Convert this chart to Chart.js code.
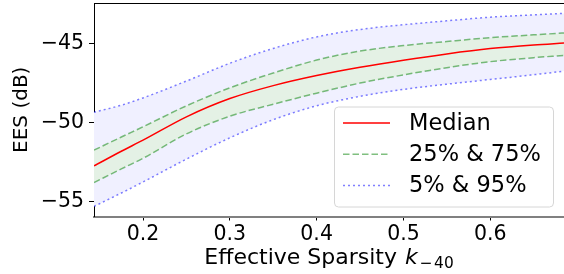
<!DOCTYPE html>
<html>
<head>
<meta charset="utf-8">
<script src="https://cdn.jsdelivr.net/npm/chart.js@4"></script>
<style>
  html, body { margin: 0; padding: 0; background: #fff; }
  #wrap { position: relative; width: 564px; height: 274px; }
</style>
</head>
<body>
<div id="wrap"><canvas id="chart" width="564" height="274"></canvas></div>
<script>
// effective sparsity k_-40 (x) and EES in dB (y)
const sparsity = [0.1435, 0.175, 0.2, 0.25, 0.3, 0.35, 0.4, 0.45, 0.5, 0.55, 0.6, 0.65, 0.685]
const median = [-52.73, -51.8, -51.1, -49.62, -48.46, -47.64, -47.0, -46.48, -46.03, -45.63, -45.29, -45.06, -44.94]
const q25 = [-53.79, -52.92, -52.25, -50.7, -49.58, -48.82, -48.12, -47.48, -46.96, -46.5, -46.12, -45.87, -45.72]
const q75 = [-51.73, -50.9, -50.25, -48.92, -47.78, -46.84, -46.02, -45.45, -45.1, -44.84, -44.6, -44.42, -44.3]
const p5 = [-55.3, -54.45, -53.75, -52.3, -50.95, -49.8, -48.92, -48.32, -47.88, -47.55, -47.25, -46.95, -46.72]
const p95 = [-49.33, -48.88, -48.42, -47.35, -46.22, -45.28, -44.55, -44.08, -43.78, -43.53, -43.3, -43.15, -43.06]

const xTicks = [0.2, 0.3, 0.4, 0.5, 0.6]
const yTicks = [-55, -50, -45]
const legendLabels = ['Median', '25% & 75%', '5% & 95%']

const FONT = 'DejaVu Sans'
const FS = 20.5
const LEG_FS = 22.5
const TITLE_FS = 22

function pts(ys) {
  return sparsity.map((x, i) => ({ x: x, y: ys[i] }))
}

const lineBase = {
  pointRadius: 0,
  borderWidth: 1.5,
  cubicInterpolationMode: 'monotone',
  fill: false,
}

// frame top line + custom legend + x title with subscript
const extras = {
  id: 'extras',
  afterDraw(chart) {
    const ctx = chart.ctx
    const a = chart.chartArea
    ctx.save()
    ctx.strokeStyle = '#000'
    ctx.lineWidth = 1
    ctx.beginPath()
    ctx.moveTo(a.left, a.top + 0.5)
    ctx.lineTo(a.right, a.top + 0.5)
    ctx.stroke()

    // legend
    const w = 219, h = 100
    const lx = a.right - 11 - w
    const ly = a.bottom - 10 - h
    ctx.beginPath()
    ctx.roundRect(lx + 0.5, ly + 0.5, w, h, 4)
    ctx.fillStyle = 'rgba(255,255,255,0.8)'
    ctx.fill()
    ctx.strokeStyle = '#d6d6d6'
    ctx.stroke()
    const styles = [
      { c: '#ff0000', d: [] },
      { c: 'rgba(0,128,0,0.5)', d: [6.5, 3] },
      { c: 'rgba(0,0,255,0.5)', d: [2, 3] },
    ]
    ctx.font = LEG_FS + 'px "' + FONT + '"'
    ctx.textBaseline = 'middle'
    ctx.fillStyle = '#000'
    legendLabels.forEach((t, i) => {
      const cy = ly + 16.5 + i * 31.3
      ctx.strokeStyle = styles[i].c
      ctx.lineWidth = 1.5
      ctx.setLineDash(styles[i].d)
      ctx.beginPath()
      ctx.moveTo(lx + 9, cy)
      ctx.lineTo(lx + 56, cy)
      ctx.stroke()
      ctx.setLineDash([])
      ctx.fillText(t, lx + 75, cy + 1)
    })

    // x axis title: Effective Sparsity k_{-40}
    const parts = [
      { t: 'Effective Sparsity ', f: TITLE_FS + 'px "' + FONT + '"', dy: 0, gap: 1 },
      { t: 'k', f: 'oblique ' + TITLE_FS + 'px "' + FONT + '"', dy: 0, gap: 2 },
      { t: '\u2212', f: (TITLE_FS * 0.7) + 'px "' + FONT + '"', dy: 4, gap: 1.5 },
      { t: '40', f: (TITLE_FS * 0.7) + 'px "' + FONT + '"', dy: 4, gap: 0 },
    ]
    let total = 0
    parts.forEach(p => {
      ctx.font = p.f
      p.w = ctx.measureText(p.t).width
      total += p.w + p.gap
    })
    let x = (a.left + a.right) / 2 - total / 2
    ctx.textBaseline = 'alphabetic'
    parts.forEach(p => {
      ctx.font = p.f
      ctx.fillText(p.t, x, 264 + p.dy)
      x += p.w + p.gap
    })
    ctx.restore()
  },
}

const ctx = document.getElementById('chart').getContext('2d')
const chart = new Chart(ctx, {
  type: 'line',
  data: {
    datasets: [
      { ...lineBase, label: 'Median', data: pts(median), borderColor: '#ff0000' },
      { ...lineBase, label: '25%', data: pts(q25), borderColor: 'rgba(0,128,0,0.5)', borderDash: [6.5, 3] },
      {
        ...lineBase,
        label: '75%',
        data: pts(q75),
        borderColor: 'rgba(0,128,0,0.5)',
        borderDash: [6.5, 3],
        fill: '-1',
        backgroundColor: 'rgb(228,241,229)',
      },
      { ...lineBase, label: '5%', data: pts(p5), borderColor: 'rgba(0,0,255,0.5)', borderDash: [2, 3] },
      {
        ...lineBase,
        label: '95%',
        data: pts(p95),
        borderColor: 'rgba(0,0,255,0.5)',
        borderDash: [2, 3],
        fill: '-1',
        backgroundColor: 'rgb(240,240,255)',
      },
    ],
  },
  options: {
    responsive: false,
    animation: false,
    devicePixelRatio: 1,
    layout: { padding: { top: 3, right: 0, left: 0, bottom: 0 } },
    plugins: {
      legend: { display: false },
      tooltip: { enabled: false },
      filler: { drawTime: 'beforeDatasetsDraw' },
    },
    scales: {
      x: {
        type: 'linear',
        min: 0.1435,
        max: 0.685,
        afterFit: s => {
          s.height = 57.5
          s.paddingLeft = 0
          s.paddingRight = 0
        },
        afterBuildTicks: s => { s.ticks = xTicks.map(v => ({ value: v })) },
        ticks: {
          color: '#000',
          font: { family: FONT, size: FS },
          padding: 2,
          maxRotation: 0,
          callback: v => v.toFixed(1),
        },
        grid: { drawOnChartArea: false, color: '#000', tickLength: 4 },
        border: { color: '#808080', width: 2 },
      },
      y: {
        min: -55.94,
        max: -42.4,
        afterFit: s => {
          s.width = 94
          s.paddingTop = 0
          s.paddingBottom = 0
        },
        afterBuildTicks: s => { s.ticks = yTicks.map(v => ({ value: v })) },
        ticks: {
          color: '#000',
          font: { family: FONT, size: FS },
          padding: 5,
          callback: v => (v < 0 ? '\u2212' + Math.abs(v) : '' + v),
        },
        grid: { drawOnChartArea: false, color: '#000', tickLength: 5 },
        border: { color: '#000', width: 1 },
        title: {
          display: true,
          text: 'EES (dB)',
          color: '#000',
          font: { family: FONT, size: 20 },
          padding: { top: 10, bottom: 0 },
        },
      },
    },
  },
  plugins: [extras],
})
</script>
</body>
</html>
